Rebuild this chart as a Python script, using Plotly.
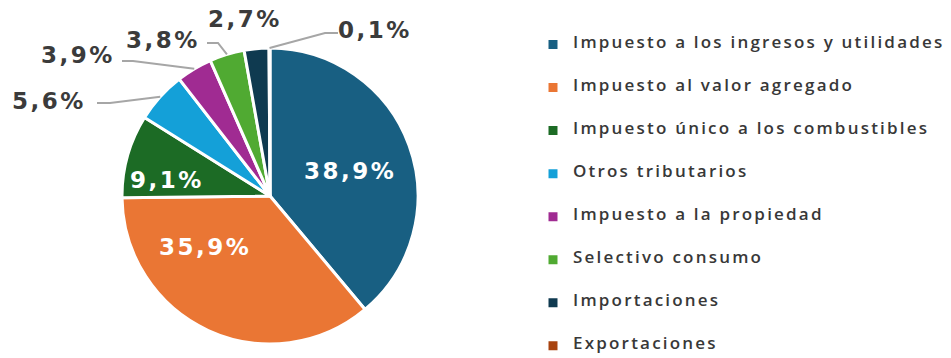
import math
import plotly.graph_objects as go

# Composition of tax revenue (%)
categories = [
    "Impuesto a los ingresos y utilidades",
    "Impuesto al valor agregado",
    "Impuesto único a los combustibles",
    "Otros tributarios",
    "Impuesto a la propiedad",
    "Selectivo consumo",
    "Importaciones",
    "Exportaciones",
]
shares = [38.9, 35.9, 9.1, 5.6, 3.9, 3.8, 2.7, 0.1]
colors = ["#185f82", "#ea7634", "#1c6b25", "#14a0d8", "#a02b92",
          "#50aa32", "#0f3a50", "#a8430f"]

W, H = 951, 358
CX, CY, R = 270, 196, 148  # pie centre / radius in px


def px(x, y):
    return x / W, 1 - y / H


def fmt(v):
    return f"{v:.1f}%".replace(".", ",")


# label anchor (px) for every slice
label_xy = [(350, 171), (205, 247), (167, 180), (49, 101),
            (78, 55), (163, 40), (245, 19), (375, 30)]
inside = [True, True, True, False, False, False, False, False]
# leader line: label end, elbow (slice edge point is computed)
leader = {3: [(97, 103), (110, 103)],
          4: [(122, 61), (133, 61)],
          5: [(207, 43), (218, 43)],
          7: [(338, 33), (325, 33)]}

# legend rows: spacer lines above each entry set the row pitch
legend_style = "font-family:'Open Sans';font-size:17px;font-weight:600;letter-spacing:2.2px"
legend_labels = [f' <br> <br> <br><span style="{legend_style}">{c}</span>' for c in categories]

fig = go.Figure(go.Pie(
    labels=legend_labels,
    values=shares,
    sort=False,
    direction="clockwise",
    rotation=0,
    marker=dict(colors=colors, line=dict(color="white", width=3)),
    textinfo="none",
    hoverinfo="skip",
    domain=dict(x=[(CX - R) / W, (CX + R) / W],
                y=[(H - CY - R) / H, (H - CY + R) / H]),
))

annotations = []
shapes = []
total = sum(shares)
cum = 0
for i, v in enumerate(shares):
    mid = (cum + v / 2) / total * 2 * math.pi
    cum += v
    lx, ly = label_xy[i]
    ax, ay = px(lx, ly)
    annotations.append(dict(
        x=ax, y=ay, xref="paper", yref="paper", showarrow=False,
        xanchor="center", yanchor="middle",
        text=f'<span style="letter-spacing:2.5px"><b>{fmt(v)}</b></span>',
        font=dict(family="DejaVu Sans", size=23,
                  color="white" if inside[i] else "#3b3b3b"),
    ))
    if i in leader:
        ex = CX + R * math.sin(mid)
        ey = CY - R * math.cos(mid)
        pts = leader[i] + [(ex, ey)]
        path = "M " + " L ".join(f"{px(a, b)[0]},{px(a, b)[1]}" for a, b in pts)
        shapes.append(dict(type="path", xref="paper", yref="paper", path=path,
                           line=dict(color="#a6a6a6", width=2)))

fig.update_layout(
    width=W, height=H,
    margin=dict(l=0, r=0, t=0, b=0, autoexpand=False),
    paper_bgcolor="white",
    plot_bgcolor="white",
    annotations=annotations,
    shapes=shapes,
    showlegend=True,
    legend=dict(
        x=533 / W, y=0, xanchor="left", yanchor="bottom",
        valign="bottom",
        font=dict(family="Open Sans", size=7.7, color="#383838"),
        itemclick=False,
    ),
)

fig.write_html("out.html")
